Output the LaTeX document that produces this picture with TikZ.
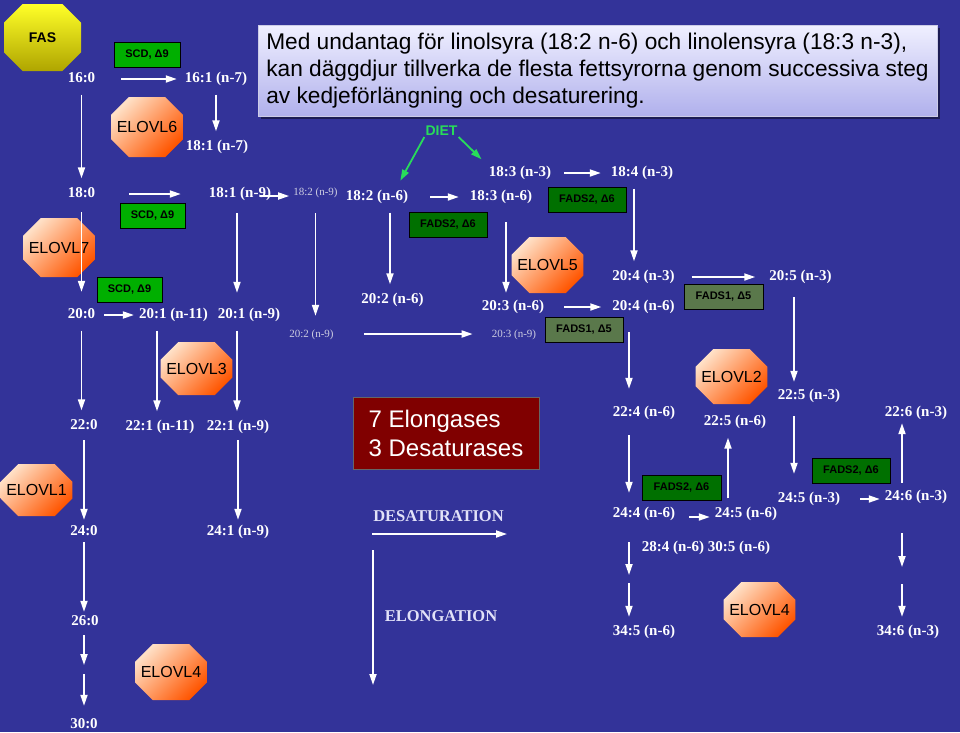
\documentclass[tikz,border=0pt]{standalone}
\usepackage{fontspec}
\setmainfont{Liberation Serif}
\newfontfamily\arialfont{Liberation Sans}
\usetikzlibrary{arrows.meta,shapes.misc,shadows}
\definecolor{bgblue}{RGB}{51,51,153}
\definecolor{scdgreen}{RGB}{0,175,0}
\definecolor{fadsgreen}{RGB}{0,112,0}
\definecolor{fadsolive}{RGB}{90,120,75}
\definecolor{dietgreen}{RGB}{40,220,90}
\definecolor{peach}{RGB}{255,224,198}
\definecolor{deeporange}{RGB}{255,85,0}
\definecolor{fasyellow}{RGB}{255,255,40}
\definecolor{fasolive}{RGB}{175,165,0}
\definecolor{lavtop}{RGB}{240,240,255}
\definecolor{lavbot}{RGB}{176,176,236}
\definecolor{darkred}{RGB}{128,0,0}
\definecolor{legendtxt}{RGB}{226,226,248}
\definecolor{fadedtxt}{RGB}{205,205,225}
\begin{document}
\begin{tikzpicture}[x=1pt,y=-1pt,
    lbl/.style={text=white,font=\fontsize{15}{17}\selectfont\bfseries,inner sep=0pt,text height=10pt,text depth=3pt},
    lblsmall/.style={text=fadedtxt,font=\fontsize{11}{13}\selectfont,inner sep=0pt,text height=8pt,text depth=2pt},
    enz/.style={draw=black,line width=0.9pt,inner sep=0pt,minimum height=25pt,font=\arialfont\bfseries\fontsize{11}{13}\selectfont},
    octa/.style={chamfered rectangle,chamfered rectangle sep=12pt,inner sep=0pt,top color=peach,bottom color=deeporange,shading angle=45,font=\arialfont\fontsize{16}{18}\selectfont},
    legend/.style={text=legendtxt,font=\fontsize{16.5}{19}\selectfont\bfseries,inner sep=0pt},
    pil/.style={->,>={Triangle[length=11pt,width=7pt]},draw=white,line width=1.8pt,shorten <=9pt,shorten >=9pt},
    dietpil/.style={->,>={Triangle[length=11pt,width=7pt]},draw=dietgreen,line width=1.8pt}]
    \useasboundingbox (0,0) rectangle (960,732);
    \fill[bgblue] (0,0) rectangle (960,732); %背景

    % 説明文
    \node[draw=white!75!bgblue,line width=0.8pt,top color=lavtop,bottom color=lavbot,
        drop shadow={shadow xshift=3pt,shadow yshift=-3pt,fill=black,opacity=0.45},
        minimum width=679pt,minimum height=91pt,align=left,text depth=4pt,
        font=\arialfont\fontsize{22.7}{27}\selectfont] (info) at (597.5,70.5)
        {Med undantag för linolsyra (18:2 n-6) och linolensyra (18:3 n-3),\\
         kan däggdjur tillverka de flesta fettsyrorna genom successiva steg\\
         av kedjeförlängning och desaturering.};
    \node[fill=darkred,draw=black!60,line width=0.8pt,minimum width=186pt,minimum height=72pt,align=left,
        text=white,font=\arialfont\fontsize{24}{29}\selectfont] (antal) at (446,433) {7 Elongases\\3 Desaturases};

    % 酵素
    \node[octa,top color=fasyellow,bottom color=fasolive,chamfered rectangle sep=16pt,minimum width=77pt,minimum height=67pt,
        font=\arialfont\bfseries\fontsize{14}{16}\selectfont] (fas) at (42.5,37.5) {FAS};
    \node[octa,minimum width=68pt,minimum height=60pt] (elovl6) at (147,127) {ELOVL6};
    \node[octa,minimum width=68pt,minimum height=59pt] (elovl7) at (59,247.5) {ELOVL7};
    \node[octa,minimum width=69pt,minimum height=56pt] (elovl5) at (547.5,265) {ELOVL5};
    \node[octa,minimum width=71pt,minimum height=53pt] (elovl3) at (196.5,368.5) {ELOVL3};
    \node[octa,minimum width=69pt,minimum height=55pt] (elovl2) at (731.5,376.5) {ELOVL2};
    \node[octa,minimum width=71pt,minimum height=52pt] (elovl1) at (36.5,490) {ELOVL1};
    \node[octa,minimum width=68pt,minimum height=56pt] (elovl4a) at (171,672) {ELOVL4};
    \node[octa,minimum width=69pt,minimum height=55pt] (elovl4b) at (759.5,609.5) {ELOVL4};
    \node[enz,fill=scdgreen,minimum width=66pt] (scdA) at (147,55) {SCD, Δ9};
    \node[enz,fill=scdgreen,minimum width=65pt] (scdB) at (152.5,216) {SCD, Δ9};
    \node[enz,fill=scdgreen,minimum width=65pt] (scdC) at (129.5,289.5) {SCD, Δ9};
    \node[enz,fill=fadsgreen,minimum width=78pt] (fads2A) at (448,225) {FADS2, Δ6};
    \node[enz,fill=fadsgreen,minimum width=78pt] (fads2B) at (587,200) {FADS2, Δ6};
    \node[enz,fill=fadsolive,minimum width=78pt] (fads1A) at (584,330) {FADS1, Δ5};
    \node[enz,fill=fadsolive,minimum width=79pt] (fads1B) at (723.5,296.5) {FADS1, Δ5};
    \node[enz,fill=fadsgreen,minimum width=79pt] (fads2C) at (681.5,487.5) {FADS2, Δ6};
    \node[enz,fill=fadsgreen,minimum width=78pt] (fads2D) at (851,470.5) {FADS2, Δ6};

    % 脂肪酸
    \node[lbl] (c160) at (81.5,79) {16:0};
    \node[lbl] (c161n7) at (216,79) {16:1 (n-7)};
    \node[lbl] (c181n7) at (217,147) {18:1 (n-7)};
    \node[lbl] (c180) at (81.5,194) {18:0};
    \node[lbl] (c181n9) at (240,194) {18:1 (n-9)};
    \node[lblsmall] (c182n9) at (315.5,192) {18:2 (n-9)};
    \node[lbl] (c182n6) at (377,197) {18:2 (n-6)};
    \node[lbl] (c183n3) at (520,173) {18:3 (n-3)};
    \node[lbl] (c183n6) at (501,197) {18:3 (n-6)};
    \node[lbl] (c184n3) at (642,173) {18:4 (n-3)};
    \node[lbl] (c200) at (81.5,315) {20:0};
    \node[lbl] (c201n11) at (173.5,315) {20:1 (n-11)};
    \node[lbl] (c201n9) at (249,315) {20:1 (n-9)};
    \node[lblsmall] (c202n9) at (311.5,334) {20:2 (n-9)};
    \node[lbl] (c202n6) at (392.5,300) {20:2 (n-6)};
    \node[lbl] (c203n6) at (513,307) {20:3 (n-6)};
    \node[lblsmall] (c203n9) at (514,334) {20:3 (n-9)};
    \node[lbl] (c204n3) at (643.5,277) {20:4 (n-3)};
    \node[lbl] (c204n6) at (643.5,307) {20:4 (n-6)};
    \node[lbl] (c205n3) at (800.5,277) {20:5 (n-3)};
    \node[lbl] (c220) at (84,426) {22:0};
    \node[lbl] (c221n11) at (160,427) {22:1 (n-11)};
    \node[lbl] (c221n9) at (238,427) {22:1 (n-9)};
    \node[lbl] (c224n6) at (644,413) {22:4 (n-6)};
    \node[lbl] (c225n6) at (735,422) {22:5 (n-6)};
    \node[lbl] (c225n3) at (809,396) {22:5 (n-3)};
    \node[lbl] (c226n3) at (916,413) {22:6 (n-3)};
    \node[lbl] (c240) at (84,532) {24:0};
    \node[lbl] (c241n9) at (238,532) {24:1 (n-9)};
    \node[lbl] (c244n6) at (644,514) {24:4 (n-6)};
    \node[lbl] (c245n6) at (746,514) {24:5 (n-6)};
    \node[lbl] (c245n3) at (809,499) {24:5 (n-3)};
    \node[lbl] (c246n3) at (916,497) {24:6 (n-3)};
    \node[lbl] (c284n6) at (673,548) {28:4 (n-6)};
    \node[lbl] (c305n6) at (739,548) {30:5 (n-6)};
    \node[lbl] (c260) at (85,622) {26:0};
    \node[lbl] (c300) at (84,725) {30:0};
    \node[lbl] (c345n6) at (644,632) {34:5 (n-6)};
    \node[lbl] (c346n3) at (908,632) {34:6 (n-3)};
    \node[text=dietgreen,font=\arialfont\bfseries\fontsize{14}{16}\selectfont,inner sep=1pt] (diet) at (441.5,131) {DIET};

    % 凡例
    \node[legend] (desat) at (438.5,516) {DESATURATION};
    \node[legend] (elong) at (441,616) {ELONGATION};
    \coordinate (dA) at (372,534);
    \coordinate (dB) at (507,534);
    \coordinate (eA) at (373,550);
    \coordinate (eB) at (373,685);
    \draw[pil,shorten <=0pt,shorten >=0pt] (dA) -- (dB);
    \draw[pil,shorten <=0pt,shorten >=0pt] (eA) -- (eB);

    % 食事から
    \draw[dietpil,shorten >=11pt] (diet.south west) -- ([xshift=18pt]c182n6.north);
    \draw[dietpil,shorten >=10pt] (diet.south east) -- (c183n3.north west);

    % 不飽和化 (横)
    \draw[pil,shorten <=26pt,shorten >=8pt] (c160.east) -- (c160.east -| c161n7.west);
    \draw[pil,shorten <=34pt,shorten >=28pt] (c180.east) -- (c180.east -| c181n9.west);
    \draw[pil,shorten <=0pt,shorten >=4pt] ([xshift=-11pt,yshift=-2pt]c181n9.east) -- ([yshift=-2pt]c181n9.east -| c182n9.west);
    \draw[pil,shorten <=9pt,shorten >=5pt] (c200.east) -- (c200.east -| c201n11.west);
    \draw[pil,shorten <=30pt,shorten >=19pt] (c202n9.east) -- (c202n9.east -| c203n9.west);
    \draw[pil,shorten <=22pt,shorten >=11pt] (c182n6.east) -- (c182n6.east -| c183n6.west);
    \draw[pil,shorten <=13pt,shorten >=10pt] (c183n3.east) -- (c183n3.east -| c184n3.west);
    \draw[pil,shorten <=20pt,shorten >=11pt] (c203n6.east) -- (c203n6.east -| c204n6.west);
    \draw[pil,shorten <=17pt,shorten >=14pt] (c204n3.east) -- (c204n3.east -| c205n3.west);
    \draw[pil,shorten <=14pt,shorten >=5pt] ([yshift=-3pt]c244n6.east) -- ([yshift=-3pt]c244n6.east -| c245n6.west);
    \draw[pil,shorten <=20pt,shorten >=5pt] (c245n3.east) -- (c245n3.east -| c246n3.west);

    % 鎖長延長 (縦)
    \draw[pil] (c160.south) -- (c160.south |- c180.north);
    \draw[pil] (c161n7.south) -- (c161n7.south |- c181n7.north);
    \draw[pil,shorten <=11.5pt,shorten >=16.5pt] (c180.south) -- (c180.south |- c200.north);
    \draw[pil,shorten <=12.5pt,shorten >=15.5pt] ([xshift=-3pt]c181n9.south) -- ([xshift=-3pt]c181n9.south |- c201n9.north);
    \draw[pil,shorten <=16pt,shorten >=13pt] (c182n9.south) -- (c182n9.south |- c202n9.north);
    \draw[pil] ([xshift=13pt]c182n6.south) -- ([xshift=13pt]c182n6.south |- c202n6.north);
    \draw[pil,shorten <=18.5pt,shorten >=7.5pt] ([xshift=5pt]c183n6.south) -- ([xshift=5pt]c183n6.south |- c203n6.north);
    \draw[pil] ([xshift=-8pt]c184n3.south) -- ([xshift=-8pt]c184n3.south |- c204n3.north);
    \draw[pil] (c200.south) -- (c200.south |- c220.north);
    \draw[pil] ([xshift=-16.5pt]c201n11.south) -- ([xshift=-16.5pt]c201n11.south |- c221n11.north);
    \draw[pil] ([xshift=-12pt]c201n9.south) -- ([xshift=-12pt]c201n9.south |- c221n9.north);
    \draw[pil,shorten <=18.5pt,shorten >=17.5pt] ([xshift=-14.5pt]c204n6.south) -- ([xshift=-14.5pt]c204n6.south |- c224n6.north);
    \draw[pil,shorten <=13.5pt,shorten >=7.5pt] ([xshift=-6.5pt]c205n3.south) -- ([xshift=-6.5pt]c205n3.south |- c225n3.north);
    \draw[pil,shorten <=7.5pt,shorten >=5.5pt] (c220.south) -- (c220.south |- c240.north);
    \draw[pil,shorten <=6.5pt,shorten >=5.5pt] (c221n9.south) -- (c221n9.south |- c241n9.north);
    \draw[pil,shorten <=15.5pt,shorten >=14.5pt] ([xshift=-15pt]c224n6.south) -- ([xshift=-15pt]c224n6.south |- c244n6.north);
    \draw[pil] ([xshift=-18pt]c245n6.north) -- ([xshift=-18pt]c245n6.north |- c225n6.south);
    \draw[pil,shorten <=13.5pt,shorten >=18.5pt] ([xshift=-15pt]c225n3.south) -- ([xshift=-15pt]c225n3.south |- c245n3.north);
    \draw[pil,shorten <=7.5pt,shorten >=3.5pt] ([xshift=-14pt]c246n3.north) -- ([xshift=-14pt]c246n3.north |- c226n3.south);
    \draw[pil,shorten <=3.5pt,shorten >=3.5pt] (c240.south) -- (c240.south |- c260.north);
    \coordinate (m1) at (84,670);
    \coordinate (m2) at (629,579);
    \coordinate (m3) at (902,575.5);
    \draw[pil,shorten <=6.5pt,shorten >=5pt] (c260.south -| m1) -- (m1);
    \draw[pil,shorten <=4pt,shorten >=12.5pt] (m1) -- (m1 |- c300.north);
    \draw[pil,shorten <=21.5pt,shorten >=4pt] (c244n6.south -| m2) -- (m2);
    \draw[pil,shorten <=4pt,shorten >=8.5pt] (m2) -- (m2 |- c345n6.north);
    \draw[pil,shorten <=29.5pt,shorten >=8.5pt] (c246n3.south -| m3) -- (m3);
    \draw[pil,shorten <=8.5pt,shorten >=8.5pt] (m3) -- (m3 |- c346n3.north);
\end{tikzpicture}
\end{document}
